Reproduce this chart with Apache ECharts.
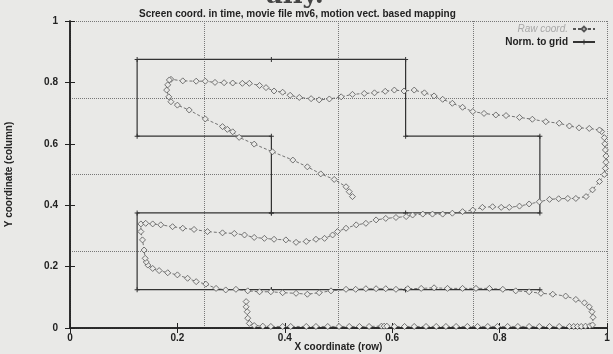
<!DOCTYPE html>
<html>
<head>
<meta charset="utf-8">
<script src="https://cdn.jsdelivr.net/npm/echarts@6/dist/echarts.min.js"></script>
<style>
  html, body { margin: 0; padding: 0; background: #e9e9e7; }
  #chart { width: 613px; height: 354px; }
</style>
</head>
<body>
<div id="chart"></div>
<script>
// 原始坐标（按时间顺序读图）
const rawX = [0.328,0.328,0.33,0.331,0.334,0.343,0.359,0.374,0.396,0.411,0.44,0.458,0.48,0.501,0.52,0.539,0.557,0.58,0.585,0.59,0.604,0.623,0.641,0.663,0.682,0.7,0.719,0.74,0.759,0.778,0.796,0.815,0.834,0.855,0.874,0.893,0.911,0.93,0.938,0.945,0.952,0.96,0.968,0.973,
  0.974,0.972,0.967,0.958,0.942,0.923,0.899,0.877,0.855,0.83,0.806,0.781,0.756,0.731,0.703,0.678,0.654,0.629,0.607,0.588,0.57,0.551,0.532,0.514,0.486,0.464,0.442,0.421,0.396,0.374,0.353,0.331,0.309,0.29,0.272,0.253,0.235,0.219,0.2,0.182,0.166,0.154,0.145,0.142,0.14,0.138,0.135,0.132,0.132,
  0.141,0.154,0.169,0.191,0.21,0.231,0.256,0.284,0.306,0.325,0.343,0.362,0.38,0.402,0.421,0.44,0.458,0.474,0.489,0.498,0.514,0.533,0.551,0.57,0.588,0.607,0.626,0.638,0.657,0.675,0.694,0.712,0.731,0.75,0.768,0.787,0.803,0.818,0.837,0.855,0.874,0.893,0.91,0.927,0.942,0.961,0.973,0.986,0.995,0.997,0.998,0.998,0.997,0.996,0.995,0.99,
  0.986,0.967,0.948,0.93,0.911,0.886,0.861,0.837,0.812,0.793,0.771,0.75,0.731,0.712,0.694,0.678,0.66,0.641,0.622,0.604,0.587,0.567,0.548,0.526,0.505,0.483,0.464,0.449,0.427,0.41,0.396,0.38,0.365,0.353,0.334,0.321,0.303,0.287,0.27,0.252,0.235,0.21,0.188,
  0.185,0.182,0.18,0.184,0.188,0.2,0.222,0.252,0.284,0.293,0.303,0.315,0.343,0.377,0.415,0.442,0.467,0.492,0.514,0.52,0.526];
const rawY = [0.086,0.069,0.053,0.032,0.015,0.008,0.006,0.005,0.005,0.005,0.005,0.005,0.005,0.005,0.005,0.005,0.005,0.006,0.006,0.006,0.005,0.005,0.005,0.005,0.005,0.005,0.005,0.005,0.005,0.005,0.005,0.005,0.005,0.005,0.005,0.005,0.005,0.005,0.005,0.005,0.005,0.006,0.007,0.01,
  0.035,0.053,0.069,0.082,0.093,0.104,0.11,0.113,0.118,0.121,0.126,0.129,0.129,0.129,0.129,0.131,0.129,0.128,0.126,0.128,0.128,0.128,0.126,0.126,0.121,0.115,0.11,0.113,0.115,0.118,0.118,0.121,0.126,0.124,0.129,0.143,0.151,0.162,0.173,0.18,0.187,0.194,0.205,0.215,0.227,0.254,0.287,0.314,0.339,
  0.341,0.339,0.336,0.33,0.325,0.321,0.314,0.31,0.308,0.303,0.295,0.292,0.289,0.287,0.279,0.282,0.289,0.292,0.303,0.314,0.325,0.336,0.341,0.352,0.357,0.36,0.363,0.368,0.371,0.371,0.371,0.374,0.379,0.384,0.393,0.395,0.393,0.393,0.397,0.404,0.411,0.419,0.421,0.422,0.422,0.428,0.45,0.477,0.5,0.52,0.54,0.56,0.58,0.6,0.62,0.64,
  0.645,0.65,0.652,0.658,0.667,0.672,0.68,0.686,0.692,0.694,0.699,0.705,0.719,0.732,0.745,0.756,0.766,0.775,0.772,0.775,0.771,0.766,0.764,0.761,0.753,0.746,0.743,0.747,0.751,0.758,0.768,0.772,0.783,0.79,0.797,0.797,0.798,0.799,0.8,0.804,0.804,0.805,0.81,
  0.808,0.792,0.775,0.753,0.737,0.726,0.71,0.681,0.656,0.647,0.639,0.621,0.599,0.574,0.547,0.525,0.502,0.484,0.46,0.444,0.428];

// 网格归一化后的坐标
const normX = [0.375,0.625,0.875,0.625,0.375,0.125,0.125,0.375,0.625,0.875,0.875,0.625,0.625,0.375,0.125,0.125,0.375,0.375];
const normY = [0.125,0.125,0.125,0.125,0.125,0.125,0.375,0.375,0.375,0.375,0.625,0.625,0.875,0.875,0.875,0.625,0.625,0.375];

const titleText = 'Screen coord. in time, movie file mv6, motion vect. based mapping';
const xName = 'X coordinate (row)';
const yName = 'Y coordinate (column)';

const zip = (xs, ys) => xs.map((x, i) => [x, ys[i]]);

const font = 'Liberation Sans, Arial, sans-serif';
const plus = 'path://M4,0H6V10H4Z M0,4H10V6H0Z';

const chart = echarts.init(document.getElementById('chart'));

// 主轴 + 镜像刻度轴 + 0.25 虚线网格轴
const baseAxis = {
    type: 'value', min: 0, max: 1,
    axisLine: { show: true, lineStyle: { color: '#222', width: 1.5 } },
    splitLine: { show: false }
};

chart.setOption({
    backgroundColor: '#e9e9e7',
    animation: false,
    title: {
        text: titleText,
        left: 134, top: 4,
        textStyle: { fontFamily: font, fontSize: 10, fontWeight: 'bold', color: '#222' }
    },
    graphic: [{
        type: 'text', left: 266, top: -17,
        style: { text: 'ally.', font: 'bold 26px DejaVu Serif', fill: '#444' }
    }],
    legend: {
        right: 12, top: 19, orient: 'vertical', align: 'right',
        itemWidth: 22, itemHeight: 6, itemGap: 3,
        textStyle: { fontFamily: font, fontSize: 10 },
        data: [
            { name: 'Raw coord.', textStyle: { color: '#a8a8a8', fontStyle: 'italic' } },
            { name: 'Norm. to grid', textStyle: { color: '#222', fontWeight: 'bold' } }
        ]
    },
    grid: { left: 70, right: 6, top: 21, bottom: 26, outerBoundsMode: 'none' },
    xAxis: [
        Object.assign({}, baseAxis, {
            position: 'bottom', interval: 0.2,
            name: xName, nameLocation: 'middle', nameGap: 14, nameMoveOverlap: false,
            nameTextStyle: { fontFamily: font, fontSize: 10, fontWeight: 'bold', color: '#222' },
            axisTick: { inside: true, length: 5, lineStyle: { color: '#222' } },
            axisLabel: { margin: 5, fontFamily: font, fontSize: 10, fontWeight: 'bold', color: '#222' }
        }),
        Object.assign({}, baseAxis, {
            position: 'top', interval: 0.2,
            axisTick: { inside: true, length: 5, lineStyle: { color: '#222' } },
            axisLabel: { show: false }
        }),
        Object.assign({}, baseAxis, {
            position: 'bottom', interval: 0.25,
            axisLine: { show: false }, axisTick: { show: false }, axisLabel: { show: false },
            splitLine: { show: true, lineStyle: { color: '#777', type: 'dotted', width: 1 } }
        })
    ],
    yAxis: [
        Object.assign({}, baseAxis, {
            position: 'left', interval: 0.2,
            name: yName, nameLocation: 'middle', nameGap: 56, nameMoveOverlap: false,
            nameTextStyle: { fontFamily: font, fontSize: 10, fontWeight: 'bold', color: '#222' },
            axisTick: { inside: true, length: 5, lineStyle: { color: '#222' } },
            axisLabel: { margin: 12, fontFamily: font, fontSize: 10, fontWeight: 'bold', color: '#222' }
        }),
        Object.assign({}, baseAxis, {
            position: 'right', interval: 0.2,
            axisTick: { inside: true, length: 5, lineStyle: { color: '#222' } },
            axisLabel: { show: false }
        }),
        Object.assign({}, baseAxis, {
            position: 'left', interval: 0.25,
            axisLine: { show: false }, axisTick: { show: false }, axisLabel: { show: false },
            splitLine: { show: true, lineStyle: { color: '#777', type: 'dotted', width: 1 } }
        })
    ],
    series: [
        {
            name: 'Raw coord.', type: 'line',
            data: zip(rawX, rawY),
            symbol: 'diamond', symbolSize: 6, showAllSymbol: true,
            lineStyle: { color: '#555', width: 0.8, type: [3, 2] },
            itemStyle: { color: '#e9e9e7', borderColor: '#555', borderWidth: 0.8 },
            z: 3
        },
        {
            name: 'Norm. to grid', type: 'line',
            data: zip(normX, normY),
            symbol: plus, symbolSize: 5, showAllSymbol: true,
            lineStyle: { color: '#333', width: 1.2 },
            itemStyle: { color: '#333' },
            z: 2
        }
    ]
});
</script>
</body>
</html>
